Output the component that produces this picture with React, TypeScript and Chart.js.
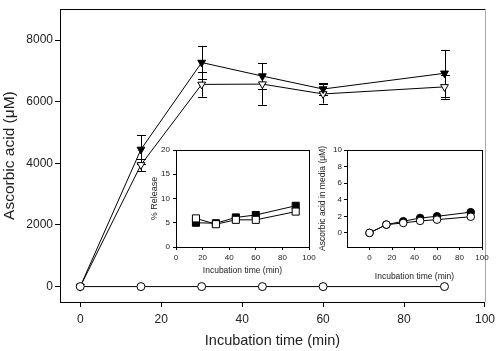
import React, { useEffect, useRef } from "react";
import { Chart, registerables } from "chart.js";

Chart.register(...registerables);

// ---- Main chart data ----
const mainTimes = [0, 15, 30, 45, 60, 90];
const filledTri = [0, 4450, 7270, 6830, 6410, 6920];
const filledTriErr = [0, 470, 540, 410, 190, 760];
const openTri = [0, 3950, 6560, 6570, 6250, 6480];
const openTriErr = [0, 200, 400, 670, 310, 380];
const controlCircles = [0, 0, 0, 0, 0, 0];
const mainXTicks = [0, 20, 40, 60, 80, 100];
const mainYTicks = [0, 2000, 4000, 6000, 8000];

// ---- Inset 1 (% Release) ----
const releaseTimes = [15, 30, 45, 60, 90];
const releaseFilled = [5.0, 4.9, 6.1, 6.6, 8.5];
const releaseOpen = [5.9, 4.7, 5.6, 5.6, 7.3];
const inset1XTicks = [0, 20, 40, 60, 80, 100];
const inset1YTicks = [0, 5, 10, 15, 20];

// ---- Inset 2 (Ascorbic acid in media) ----
const mediaTimes = [0, 15, 30, 45, 60, 90];
const mediaFilled = [0, 1.0, 1.4, 1.8, 2.0, 2.5];
const mediaOpen = [0, 1.0, 1.2, 1.45, 1.6, 1.95];
const inset2XTicks = [0, 20, 40, 60, 80, 100];
const inset2YTicks = [0, 2, 4, 6, 8, 10];

const FONT = "'Liberation Sans', Arial, sans-serif";
const TEXT = "#222";

const pts = (xs: number[], ys: number[]) => xs.map((x, i) => ({ x, y: ys[i] }));

const errorBarPlugin = {
  id: "errorBars",
  beforeDatasetsDraw(chart: any) {
    const ctx = chart.ctx;
    const yScale = chart.scales.y;
    chart.data.datasets.forEach((ds: any, di: number) => {
      if (!ds.errors) return;
      const meta = chart.getDatasetMeta(di);
      ctx.save();
      ctx.strokeStyle = "#000";
      ctx.lineWidth = 1;
      meta.data.forEach((el: any, i: number) => {
        const e = ds.errors[i];
        if (!e) return;
        const v = ds.data[i].y;
        const x = Math.round(el.x) + 0.5;
        const yt = yScale.getPixelForValue(v + e);
        const yb = yScale.getPixelForValue(v - e);
        ctx.beginPath();
        ctx.moveTo(x, yt);
        ctx.lineTo(x, yb);
        ctx.moveTo(x - 4.5, Math.round(yt) + 0.5);
        ctx.lineTo(x + 4.5, Math.round(yt) + 0.5);
        ctx.moveTo(x - 4.5, Math.round(yb) + 0.5);
        ctx.lineTo(x + 4.5, Math.round(yb) + 0.5);
        ctx.stroke();
      });
      ctx.restore();
    });
  },
};

const boxPlugin = (rightColor: string) => ({
  id: "box",
  afterDraw(chart: any) {
    const { ctx, chartArea: a } = chart;
    ctx.save();
    ctx.lineWidth = 1;
    ctx.strokeStyle = "#000";
    ctx.beginPath();
    ctx.moveTo(Math.round(a.left), Math.round(a.top) + 0.5);
    ctx.lineTo(Math.round(a.right), Math.round(a.top) + 0.5);
    ctx.stroke();
    ctx.strokeStyle = rightColor;
    ctx.beginPath();
    ctx.moveTo(Math.round(a.right) + 0.5, Math.round(a.top));
    ctx.lineTo(Math.round(a.right) + 0.5, Math.round(a.bottom));
    ctx.stroke();
    ctx.restore();
  },
});

function axis(o: {
  min: number;
  max: number;
  ticks: number[];
  size: number;
  horizontal: boolean;
  tickFont: number;
  tickLen: number;
  tickPad: number;
  title: string;
  titleFont: number;
  titlePad: any;
}) {
  return {
    type: "linear",
    min: o.min,
    max: o.max,
    afterBuildTicks: (s: any) => {
      s.ticks = o.ticks.map((v) => ({ value: v }));
    },
    afterFit: (s: any) => {
      if (o.horizontal) s.height = o.size;
      else s.width = o.size;
    },
    grid: {
      display: true,
      drawOnChartArea: false,
      drawTicks: true,
      tickLength: o.tickLen,
      color: "#000",
    },
    border: { display: true, color: "#000", width: 1 },
    ticks: {
      font: { family: FONT, size: o.tickFont },
      color: TEXT,
      padding: o.tickPad,
      maxRotation: 0,
      autoSkip: false,
      callback: (v: any) => String(v),
    },
    title: {
      display: true,
      text: o.title,
      color: TEXT,
      font: { family: FONT, size: o.titleFont },
      padding: o.titlePad,
    },
  };
}

function useChart(ref: React.RefObject<HTMLCanvasElement | null>, make: () => any) {
  useEffect(() => {
    if (!ref.current) return;
    const chart = new Chart(ref.current, make());
    return () => chart.destroy();
  }, []);
}

const lineDs = (data: any[], style: string, fill: string, radius: number, rotation = 0, extra: any = {}) => ({
  data,
  borderColor: "#000",
  borderWidth: 1,
  pointStyle: style,
  pointRadius: radius,
  pointRotation: rotation,
  pointBackgroundColor: fill,
  pointBorderColor: "#000",
  pointBorderWidth: 1,
  showLine: true,
  fill: false,
  tension: 0,
  ...extra,
});

export default function App() {
  const mainRef = useRef<HTMLCanvasElement>(null);
  const in1Ref = useRef<HTMLCanvasElement>(null);
  const in2Ref = useRef<HTMLCanvasElement>(null);

  useChart(mainRef, () => ({
    type: "scatter",
    data: {
      datasets: [
        lineDs(pts(mainTimes, controlCircles), "circle", "#fff", 4),
        lineDs(pts(mainTimes, filledTri), "triangle", "#000", 4.5, 180, { errors: filledTriErr }),
        lineDs(pts(mainTimes, openTri), "triangle", "#fff", 4.5, 180, { errors: openTriErr }),
      ],
    },
    options: {
      responsive: false,
      animation: false,
      layout: { padding: { top: 2, right: 11, left: 0, bottom: 0 } },
      plugins: { legend: { display: false }, tooltip: { enabled: false } },
      scales: {
        x: axis({
          min: -5, max: 100, ticks: mainXTicks, size: 49, horizontal: true,
          tickFont: 12, tickLen: 5, tickPad: 5,
          title: "Incubation time (min)", titleFont: 14.5, titlePad: { top: 0, bottom: 1 },
        }),
        y: axis({
          min: -500, max: 9000, ticks: mainYTicks, size: 60, horizontal: false,
          tickFont: 12, tickLen: 5, tickPad: 2,
          title: "Ascorbic acid (\u03BCM)", titleFont: 15.5, titlePad: { top: 0, bottom: 0 },
        }),
      },
    },
    plugins: [errorBarPlugin, boxPlugin("#aaa")],
  }));

  useChart(in1Ref, () => ({
    type: "scatter",
    data: {
      datasets: [
        lineDs(pts(releaseTimes, releaseOpen), "rect", "#fff", 5),
        lineDs(pts(releaseTimes, releaseFilled), "rect", "#000", 5),
      ],
    },
    options: {
      responsive: false,
      animation: false,
      layout: { padding: { top: 10, right: 11, left: 0, bottom: 0 } },
      plugins: { legend: { display: false }, tooltip: { enabled: false } },
      scales: {
        x: axis({
          min: 0, max: 100, ticks: inset1XTicks, size: 29, horizontal: true,
          tickFont: 8, tickLen: 3, tickPad: 3,
          title: "Incubation time (min)", titleFont: 8.5, titlePad: { top: 0, bottom: 0.5 },
        }),
        y: axis({
          min: 0, max: 20, ticks: inset1YTicks, size: 36, horizontal: false,
          tickFont: 8, tickLen: 3, tickPad: 3,
          title: "% Release", titleFont: 9, titlePad: { top: 9, bottom: 0 },
        }),
      },
    },
    plugins: [boxPlugin("#000")],
  }));

  useChart(in2Ref, () => ({
    type: "scatter",
    data: {
      datasets: [
        lineDs(pts(mediaTimes, mediaOpen), "circle", "#fff", 3.8),
        lineDs(pts(mediaTimes, mediaFilled), "circle", "#000", 3.8),
      ],
    },
    options: {
      responsive: false,
      animation: false,
      layout: { padding: { top: 10, right: 13, left: 0, bottom: 0 } },
      plugins: { legend: { display: false }, tooltip: { enabled: false } },
      scales: {
        x: axis({
          min: -20, max: 100, ticks: inset2XTicks, size: 35, horizontal: true,
          tickFont: 8, tickLen: 3, tickPad: 3,
          title: "Incubation time (min)", titleFont: 8.5, titlePad: { top: 0, bottom: 0.5 },
        }),
        y: axis({
          min: -1.7, max: 10, ticks: inset2YTicks, size: 31, horizontal: false,
          tickFont: 8, tickLen: 3, tickPad: 2,
          title: "Ascorbic acid in media (\u03BCM)", titleFont: 8.5, titlePad: { top: 1.2, bottom: 0 },
        }),
      },
    },
    plugins: [boxPlugin("#000")],
  }));

  return (
    <div style={{ position: "fixed", left: 0, top: 0, width: 500, height: 351, background: "#fff" }}>
      <canvas ref={mainRef} width={500} height={351} style={{ position: "absolute", left: 0, top: 0 }} />
      <canvas ref={in1Ref} width={180} height={136} style={{ position: "absolute", left: 140, top: 140 }} />
      <canvas ref={in2Ref} width={179} height={142} style={{ position: "absolute", left: 316, top: 140 }} />
    </div>
  );
}
